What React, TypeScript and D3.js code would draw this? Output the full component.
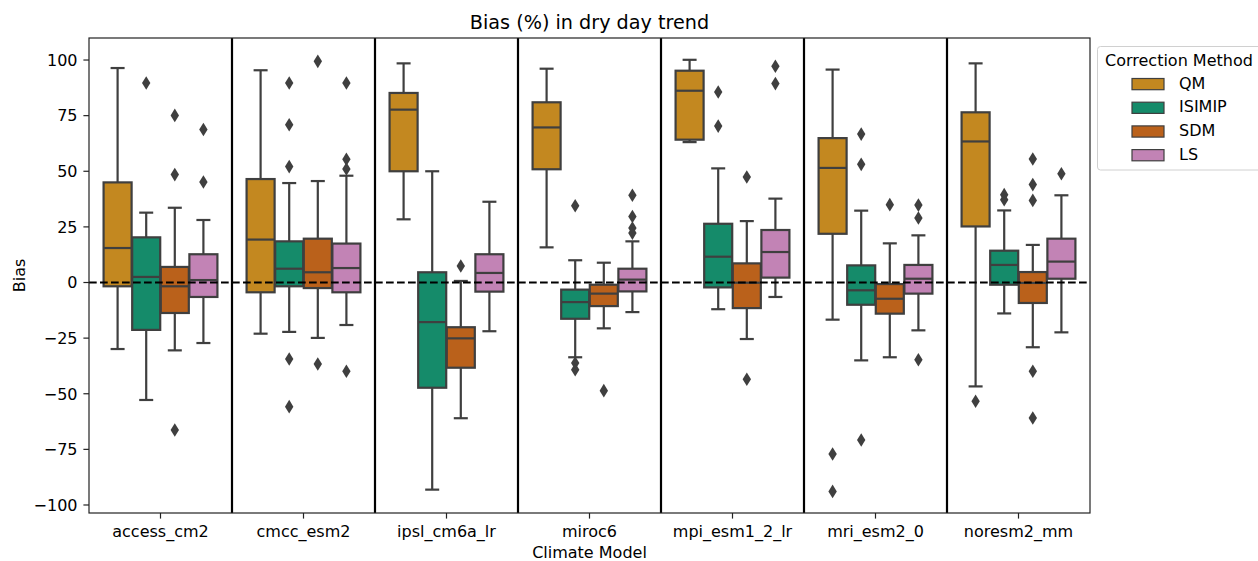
import React from 'react';
import * as d3 from 'd3';

// climate models (x categories) and correction methods (hue)
const models = ['access_cm2', 'cmcc_esm2', 'ipsl_cm6a_lr', 'miroc6', 'mpi_esm1_2_lr', 'mri_esm2_0', 'noresm2_mm'];
const methods = ['QM', 'ISIMIP', 'SDM', 'LS'];

// box stats per model: [whisker low, q1, median, q3, whisker high]
const qmStats = [
  [-29.9, -1.7, 15.5, 45.0, 96.4],
  [-23.0, -4.4, 19.3, 46.5, 95.4],
  [28.4, 50.0, 77.7, 85.2, 98.5],
  [15.8, 50.9, 69.7, 81.0, 96.1],
  [63.1, 64.2, 86.2, 95.2, 100.1],
  [-16.7, 21.9, 51.5, 64.9, 95.7],
  [-46.7, 25.2, 63.4, 76.5, 98.5],
];
const isimipStats = [
  [-52.8, -21.3, 2.5, 20.3, 31.4],
  [-22.2, -1.7, 6.2, 18.5, 44.7],
  [-93.1, -47.3, -17.8, 4.6, 50.0],
  [-33.6, -16.3, -8.8, -3.2, 10.0],
  [-12.0, -2.2, 11.6, 26.4, 51.3],
  [-35.0, -10.0, -3.5, 7.7, 32.3],
  [-13.9, -1.0, 7.9, 14.3, 32.4],
];
const sdmStats = [
  [-30.5, -13.7, -1.7, 7.0, 33.6],
  [-24.9, -2.5, 4.6, 19.7, 45.6],
  [-61.0, -38.3, -25.1, -20.1, 0.7],
  [-20.6, -10.6, -5.0, -1.0, 8.9],
  [-25.4, -11.5, -0.1, 8.6, 27.6],
  [-33.6, -14.0, -7.3, -0.7, 17.6],
  [-29.1, -9.2, -0.2, 4.7, 16.9],
];
const lsStats = [
  [-27.2, -6.5, 1.1, 12.7, 28.1],
  [-19.1, -4.4, 6.5, 17.5, 48.0],
  [-21.9, -4.1, 4.3, 12.7, 36.3],
  [-13.3, -4.0, 1.3, 6.2, 18.5],
  [-6.5, 2.2, 13.7, 23.6, 37.7],
  [-21.5, -5.0, 1.7, 7.9, 21.2],
  [-22.4, 1.7, 9.4, 19.7, 39.2],
];

// fliers per model
const qmOutliers = [[], [], [], [], [], [-77.1, -93.9], [-53.4]];
const isimipOutliers = [[89.7], [89.7, 70.9, 52.1, -34.4, -55.8], [], [34.5, -36.2, -39.2], [85.6, 70.3], [66.7, 53.1, -70.8], [39.5, 37.2]];
const sdmOutliers = [[75.1, 48.5, -66.3], [99.4, -36.6], [7.4], [-48.6], [47.4, -43.5], [35.0], [55.5, 44.0, 36.9, -39.9, -60.9]];
const lsOutliers = [[68.8, 45.2], [89.7, 55.4, 51.0, -39.9], [], [39.2, 29.7, 24.5, 22.2], [97.2, 89.4], [34.8, 29.0, -34.7], [48.9]];

const yTicks = [-100, -75, -50, -25, 0, 25, 50, 75, 100];

const allStats = [qmStats, isimipStats, sdmStats, lsStats];
const allOutliers = [qmOutliers, isimipOutliers, sdmOutliers, lsOutliers];

// seaborn colorblind, desaturated like boxplot does (0.75)
const baseColors = ['#de8f05', '#029e73', '#d55e00', '#cc78bc'];
const colors = baseColors.map(c => {
  const h = d3.hsl(c);
  h.s *= 0.75;
  return h.formatHex();
});

const W = 1258, H = 561;
const m = { left: 89, right: 1090, top: 38, bottom: 513 };
const font = 'DejaVu Sans, sans-serif';
const gray = '#3f3f3f';
const fs = 16;

export default function App() {
  const x = d3.scaleBand().domain(models).range([m.left, m.right]).padding(0);
  const bw = x.bandwidth();
  const inner = d3.scaleBand().domain(methods).range([-0.4 * bw, 0.4 * bw]).padding(0);
  const boxW = inner.bandwidth() * 0.98;
  const y = d3.scaleLinear().domain([-103.6, 109.9]).range([m.bottom, m.top]);

  const diamond = (cx: number, cy: number) =>
    `M${cx},${cy - 6.8}L${cx + 4.2},${cy}L${cx},${cy + 6.8}L${cx - 4.2},${cy}Z`;

  return (
    <svg width={W} height={H} style={{ position: 'absolute', left: 0, top: 0, fontFamily: font }}>
      <rect width={W} height={H} fill="white" />

      {/* boxes */}
      {methods.map((meth, k) =>
        models.map((mod, i) => {
          const [lo, q1, med, q3, hi] = allStats[k][i];
          const cx = x(mod)! + bw / 2 + inner(meth)! + inner.bandwidth() / 2;
          const x0 = cx - boxW / 2;
          return (
            <g key={meth + mod}>
              <line x1={cx} x2={cx} y1={y(hi)} y2={y(q3)} stroke={gray} strokeWidth={2.2} />
              <line x1={cx} x2={cx} y1={y(q1)} y2={y(lo)} stroke={gray} strokeWidth={2.2} />
              <line x1={cx - boxW / 4} x2={cx + boxW / 4} y1={y(hi)} y2={y(hi)} stroke={gray} strokeWidth={2.2} />
              <line x1={cx - boxW / 4} x2={cx + boxW / 4} y1={y(lo)} y2={y(lo)} stroke={gray} strokeWidth={2.2} />
              <rect x={x0} y={y(q3)} width={boxW} height={y(q1) - y(q3)} fill={colors[k]} stroke={gray} strokeWidth={2.2} />
              <line x1={x0} x2={x0 + boxW} y1={y(med)} y2={y(med)} stroke={gray} strokeWidth={2.2} />
              {allOutliers[k][i].map((v, j) => (
                <path key={j} d={diamond(cx, y(v))} fill={gray} />
              ))}
            </g>
          );
        })
      )}

      {/* zero reference */}
      <line x1={m.left} x2={m.right} y1={y(0)} y2={y(0)} stroke="black" strokeWidth={2.2} strokeDasharray="7.7,3.3" />

      {/* group separators */}
      {models.slice(1).map(mod => (
        <line key={mod} x1={x(mod)} x2={x(mod)} y1={m.top} y2={m.bottom} stroke="black" strokeWidth={2.2} />
      ))}

      {/* frame */}
      <rect x={m.left} y={m.top} width={m.right - m.left} height={m.bottom - m.top} fill="none" stroke="#222" strokeWidth={1.2} />

      {/* y axis */}
      {yTicks.map(t => (
        <g key={t}>
          <line x1={m.left - 5.6} x2={m.left} y1={y(t)} y2={y(t)} stroke="#222" strokeWidth={1.2} />
          <text x={m.left - 11.5} y={y(t)} dy="0.36em" textAnchor="end" fontSize={fs} fill="#000">
            {t < 0 ? '\u2212' + Math.abs(t) : t}
          </text>
        </g>
      ))}
      <text transform={`translate(25,${(m.top + m.bottom) / 2}) rotate(-90)`} textAnchor="middle" fontSize={fs} fill="#000">Bias</text>

      {/* x axis */}
      {models.map(mod => (
        <g key={mod}>
          <line x1={x(mod)! + bw / 2} x2={x(mod)! + bw / 2} y1={m.bottom} y2={m.bottom + 5.6} stroke="#222" strokeWidth={1.2} />
          <text x={x(mod)! + bw / 2} y={537} textAnchor="middle" fontSize={fs} fill="#000">{mod}</text>
        </g>
      ))}
      <text x={(m.left + m.right) / 2} y={558} textAnchor="middle" fontSize={fs} fill="#000">Climate Model</text>

      {/* title */}
      <text x={(m.left + m.right) / 2} y={29} textAnchor="middle" fontSize={19.2} fill="#000">Bias (%) in dry day trend</text>

      {/* legend */}
      <g>
        <rect x={1097.5} y={46.5} width={180} height={123.5} rx={3} fill="white" stroke="#d0d0d0" strokeWidth={1} />
        <text x={1105} y={66} fontSize={fs} fill="#000">Correction Method</text>
        {methods.map((meth, k) => (
          <g key={meth} transform={`translate(0,${k * 23.7})`}>
            <rect x={1132} y={78.5} width={32} height={11.2} fill={colors[k]} stroke={gray} strokeWidth={1.2} />
            <text x={1179} y={88.5} fontSize={fs} fill="#000">{meth}</text>
          </g>
        ))}
      </g>
    </svg>
  );
}
